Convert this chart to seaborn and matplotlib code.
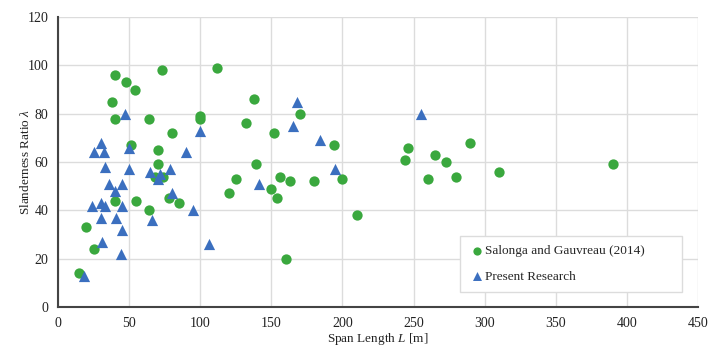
import matplotlib as mpl
mpl.use("Agg")
import matplotlib.pyplot as plt
import numpy as np
import pandas as pd
import seaborn as sns

# Salonga and Gauvreau (2014)
sg_span = [15, 20, 25, 38, 40, 40, 40, 48, 51, 54, 55, 64, 64, 70, 70, 68, 74, 73, 78, 80,
           85, 100, 100, 112, 120, 125, 132, 138, 139, 150, 152, 154, 156, 160, 163, 170,
           180, 194, 200, 210, 244, 246, 260, 265, 273, 280, 290, 310, 390]
sg_ratio = [14, 33, 24, 85, 96, 78, 44, 93, 67, 90, 44, 78, 40, 65, 59, 54, 54, 98, 45, 72,
            43, 79, 78, 99, 47, 53, 76, 86, 59, 49, 72, 45, 54, 20, 52, 80,
            52, 67, 53, 38, 61, 66, 53, 63, 60, 54, 68, 56, 59]

# Present Research
pr_span = [18, 24, 25, 30, 30, 30, 31, 32, 33, 33, 36, 40, 41, 44, 45, 45, 45, 47, 50, 50,
           65, 66, 70, 72, 79, 80, 90, 95, 100, 106, 141, 165, 168, 184, 195, 255]
pr_ratio = [13, 42, 64, 68, 43, 37, 27, 64, 58, 42, 51, 48, 37, 22, 51, 42, 32, 80, 66, 57,
            56, 36, 53, 55, 57, 47, 64, 40, 73, 26, 51, 75, 85, 69, 57, 80]

sg = pd.DataFrame({"span": sg_span, "ratio": sg_ratio})
pr = pd.DataFrame({"span": pr_span, "ratio": pr_ratio})

sns.set_style("white")
plt.rcParams["font.family"] = ["Liberation Serif", "DejaVu Serif"]
plt.rcParams["mathtext.fontset"] = "custom"
plt.rcParams["mathtext.it"] = "Liberation Serif:italic"
plt.rcParams["mathtext.rm"] = "Liberation Serif"

fig = plt.figure(figsize=(7.2, 3.5), dpi=100)
ax = fig.add_axes([0.0806, 0.123, 0.8889, 0.828])

sns.scatterplot(data=sg, x="span", y="ratio", ax=ax, color="#3aa83e", marker="o",
                s=55, linewidth=0, label="Salonga and Gauvreau (2014)", zorder=3)
sns.scatterplot(data=pr, x="span", y="ratio", ax=ax, color="#3b6fbf", marker="^",
                s=65, linewidth=0, label="Present Research", zorder=3)

ax.set_xlim(0, 450)
ax.set_ylim(0, 120)
ax.set_xticks(np.arange(0, 451, 50))
ax.set_yticks(np.arange(0, 121, 20))
ax.grid(True, color="#dcdcdc", linewidth=1)
ax.set_axisbelow(True)
ax.tick_params(length=0, labelsize=10, colors="#222222")
ax.tick_params(axis="y", pad=7)
ax.tick_params(axis="x", pad=7)
for s in ["top", "right"]:
    ax.spines[s].set_visible(False)
for s in ["left", "bottom"]:
    ax.spines[s].set_color("#444444")
    ax.spines[s].set_linewidth(1.5)

ax.set_xlabel(r"Span Length $L$ [m]", fontsize=9.5, color="#222222", labelpad=1)
ax.set_ylabel(r"Slanderness Ratio $\lambda$", fontsize=9.5, color="#222222", labelpad=-3)

leg = ax.legend(loc="lower left", bbox_to_anchor=(0.628, 0.052, 0.347, 0.193),
                mode="expand", borderaxespad=0, fontsize=9.5, frameon=True, fancybox=False,
                edgecolor="#dcdcdc", framealpha=1, handletextpad=0.0,
                handlelength=1.2, labelspacing=1.0, borderpad=0.7, markerscale=0.8)
leg.get_frame().set_linewidth(1)

plt.savefig("out.png", dpi=100)
